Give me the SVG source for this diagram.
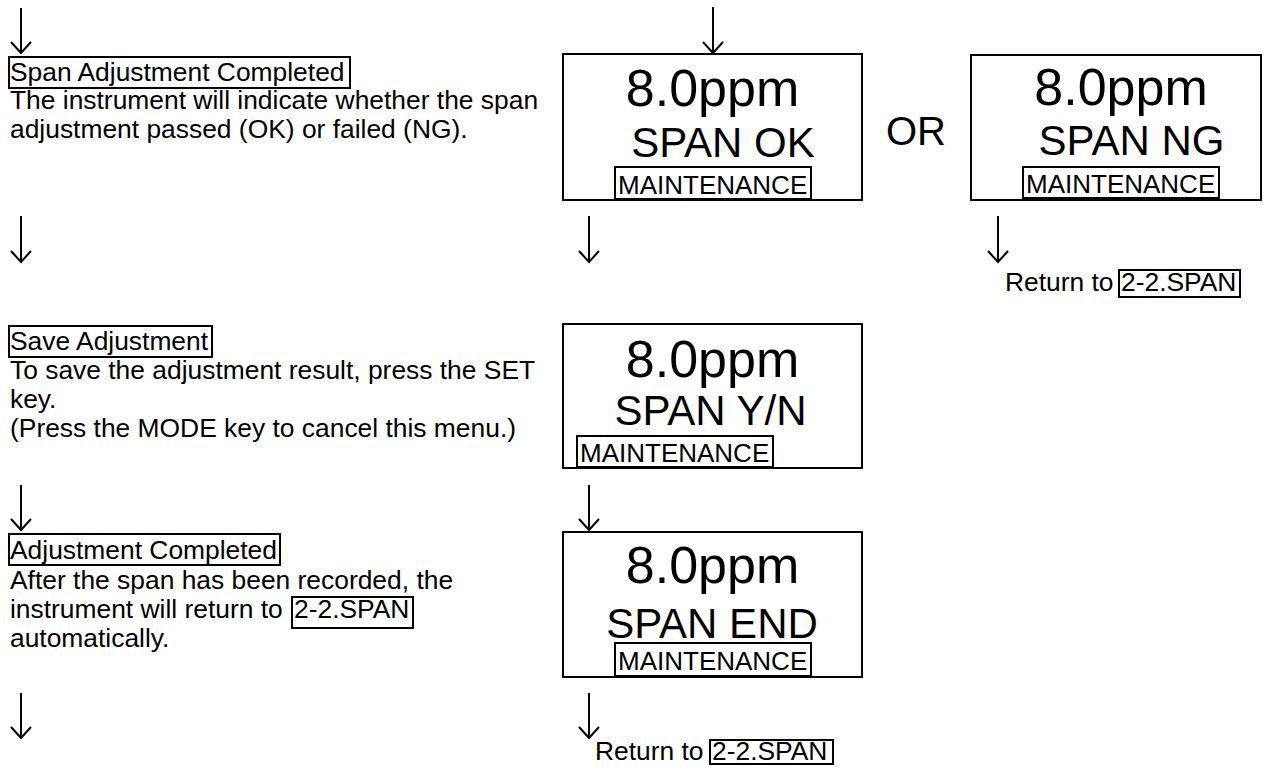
<svg xmlns="http://www.w3.org/2000/svg" width="1269" height="771" viewBox="0 0 1269 771">
<style>
text{font-family:"Liberation Sans",Arial,sans-serif;fill:#000}
.t{font-size:26.4px}
.big{font-size:52px}
.mid{font-size:42px}
.m{font-size:26px}
.or{font-size:40px}
.box{fill:none;stroke:#000;stroke-width:2}
.lbl{fill:none;stroke:#000;stroke-width:2}
.arr{fill:none;stroke:#000;stroke-width:2;marker-end:url(#ah)}
</style>
<defs>
<marker id="ah" markerUnits="userSpaceOnUse" markerWidth="14" markerHeight="24" viewBox="0 0 14 24" refX="12" refY="11" orient="auto" overflow="visible">
<path d="M1,1 L12,11 L1,21" fill="none" stroke="#000" stroke-width="2"/>
</marker>
</defs>
<rect width="1269" height="771" fill="#fff"/>
<g id="connectors">
<path class="arr" d="M21,8 V53"/>
<path class="arr" d="M713,7 V53"/>
<path class="arr" d="M21,216 V262"/>
<path class="arr" d="M589,216 V262"/>
<path class="arr" d="M998,216 V262"/>
<path class="arr" d="M21,485 V530"/>
<path class="arr" d="M589,485 V530"/>
<path class="arr" d="M21,693 V738"/>
<path class="arr" d="M589,693 V738"/>
</g>
<g id="step-span-completed">
<rect class="lbl" x="9" y="57" width="341" height="31"/>
<text class="t" x="10" y="81">Span Adjustment Completed</text>
<text class="t" x="10" y="109">The instrument will indicate whether the span</text>
<text class="t" x="10" y="138">adjustment passed (OK) or failed (NG).</text>
</g>
<g id="screen-span-ok">
<rect class="box" x="563" y="54" width="299" height="146"/>
<text class="big" x="712.5" y="106" text-anchor="middle">8.0ppm</text>
<text class="mid" x="723" y="157" text-anchor="middle">SPAN OK</text>
<rect class="lbl" x="615" y="167" width="196" height="32"/>
<text class="m" x="618" y="194">MAINTENANCE</text>
</g>
<g id="or-label">
<text class="or" x="886" y="145">OR</text>
</g>
<g id="screen-span-ng">
<rect class="box" x="971" y="55" width="290" height="145"/>
<text class="big" x="1121" y="105" text-anchor="middle">8.0ppm</text>
<text class="mid" x="1131.5" y="155" text-anchor="middle">SPAN NG</text>
<rect class="lbl" x="1023" y="167" width="196" height="31"/>
<text class="m" x="1026" y="193">MAINTENANCE</text>
</g>
<g id="return-ng">
<text class="t" x="1005" y="291">Return to</text>
<rect class="lbl" x="1119" y="270" width="121" height="27"/>
<text class="t" x="1121" y="291">2-2.SPAN</text>
</g>
<g id="step-save">
<rect class="lbl" x="9" y="326" width="203" height="31"/>
<text class="t" x="10" y="350">Save Adjustment</text>
<text class="t" x="10" y="379">To save the adjustment result, press the SET</text>
<text class="t" x="10" y="408">key.</text>
<text class="t" x="10" y="437">(Press the MODE key to cancel this menu.)</text>
</g>
<g id="screen-span-yn">
<rect class="box" x="563" y="324" width="299" height="144"/>
<text class="big" x="712.5" y="377" text-anchor="middle">8.0ppm</text>
<text class="mid" x="710.5" y="425" text-anchor="middle">SPAN Y/N</text>
<rect class="lbl" x="577" y="436" width="196" height="31"/>
<text class="m" x="580" y="462">MAINTENANCE</text>
</g>
<g id="step-adj-completed">
<rect class="lbl" x="9" y="534" width="271" height="31"/>
<text class="t" x="10" y="559">Adjustment Completed</text>
<text class="t" x="10" y="589">After the span has been recorded, the</text>
<text class="t" x="10" y="618">instrument will return to</text>
<rect class="lbl" x="292" y="597" width="121" height="31"/>
<text class="t" x="294" y="618">2-2.SPAN</text>
<text class="t" x="10" y="647">automatically.</text>
</g>
<g id="screen-span-end">
<rect class="box" x="563" y="532" width="299" height="145"/>
<text class="big" x="712.5" y="583" text-anchor="middle">8.0ppm</text>
<text class="mid" x="712" y="638" text-anchor="middle">SPAN END</text>
<rect class="lbl" x="615" y="643" width="196" height="33"/>
<text class="m" x="618" y="670">MAINTENANCE</text>
</g>
<g id="return-end">
<text class="t" x="595" y="760">Return to</text>
<rect class="lbl" x="710" y="740" width="123" height="24"/>
<text class="t" x="712" y="760">2-2.SPAN</text>
</g>
</svg>
